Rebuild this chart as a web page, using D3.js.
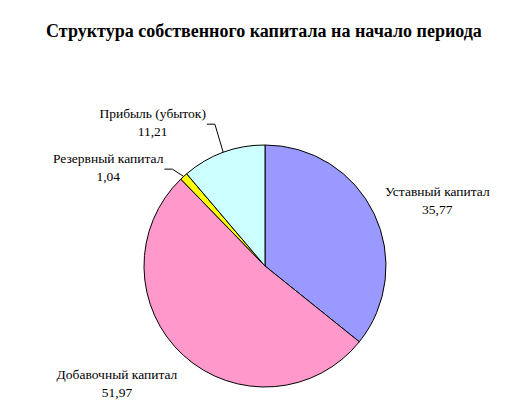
<!DOCTYPE html>
<html>
<head>
<meta charset="utf-8">
<style>
  body { margin: 0; background: #ffffff; }
  .title { font-family: "Liberation Serif", "Times New Roman", "DejaVu Serif", serif; font-size: 18px; font-weight: bold; fill: #000; }
  .lbl text { font-family: "Liberation Serif", "Times New Roman", "DejaVu Serif", serif; font-size: 13.5px; fill: #000; }
  .slice path { stroke: #000; stroke-width: 1; }
  .leader { fill: none; stroke: #000; stroke-width: 1; }
</style>
</head>
<body>
<script src="https://cdn.jsdelivr.net/npm/d3@7/dist/d3.min.js"></script>
<script>
// data, clockwise from 12 o'clock
var categories = ["Уставный капитал", "Добавочный капитал", "Резервный капитал", "Прибыль (убыток)"];
var values = [35.77, 51.97, 1.04, 11.21];
var valueLabels = ["35,77", "51,97", "1,04", "11,21"];
var colors = ["#9999ff", "#ff99cc", "#ffff00", "#ccffff"];

var width = 509, height = 408;
var cx = 265, cy = 266, radius = 121;

// label tweaks (dx, dy from the point at label radius) and whether a leader is drawn
var labelOffsets = [[25, 6], [-38, -2.5], [-47, 22.6], [-56, 10]];
var leaders = [false, false, true, true];

var svg = d3.select("body").append("svg")
    .attr("width", width)
    .attr("height", height);

svg.append("text")
    .attr("class", "title")
    .attr("x", 264)
    .attr("y", 37)
    .attr("text-anchor", "middle")
    .text("Структура собственного капитала на начало периода");

var data = categories.map(function(c, i) {
  return { name: c, value: values[i], label: valueLabels[i], color: colors[i], i: i };
});

var pie = d3.pie()
    .sort(null)
    .value(function(d) { return d.value; });

var arc = d3.arc().innerRadius(0).outerRadius(radius);
var labelArc = d3.arc().innerRadius(radius * 1.35).outerRadius(radius * 1.35);

var g = svg.append("g")
    .attr("transform", "translate(" + cx + "," + cy + ")");

var arcs = pie(data);

g.selectAll(".slice")
  .data(arcs)
  .enter()
  .append("g")
    .attr("class", "slice")
  .append("path")
    .attr("d", arc)
    .style("fill", function(d) { return d.data.color; });

function labelPos(d) {
  var c = labelArc.centroid(d);
  var o = labelOffsets[d.data.i];
  return [c[0] + o[0], c[1] + o[1]];
}

var lbl = g.selectAll(".lbl")
  .data(arcs)
  .enter()
  .append("g")
    .attr("class", "lbl")
    .attr("transform", function(d) {
      var p = labelPos(d);
      return "translate(" + p[0] + "," + p[1] + ")";
    });

lbl.append("text")
    .attr("class", "name")
    .attr("text-anchor", "middle")
    .attr("y", -5)
    .text(function(d) { return d.data.name; });

lbl.append("text")
    .attr("text-anchor", "middle")
    .attr("y", 13)
    .text(function(d) { return d.data.label; });

// leader lines: short horizontal right of the label, then down to the slice edge
lbl.each(function(d) {
  if (!leaders[d.data.i]) return;
  var mid = (d.startAngle + d.endAngle) / 2;
  var edge = [Math.sin(mid) * radius, -Math.cos(mid) * radius];
  var p = labelPos(d);
  var right = p[0] + d3.select(this).select(".name").node().getComputedTextLength() / 2;
  var ly = p[1] + 1.5;
  g.append("path")
    .attr("class", "leader")
    .attr("d", d3.line()([[right + 1, ly], [right + 9, ly], edge]));
});
</script>
</body>
</html>
